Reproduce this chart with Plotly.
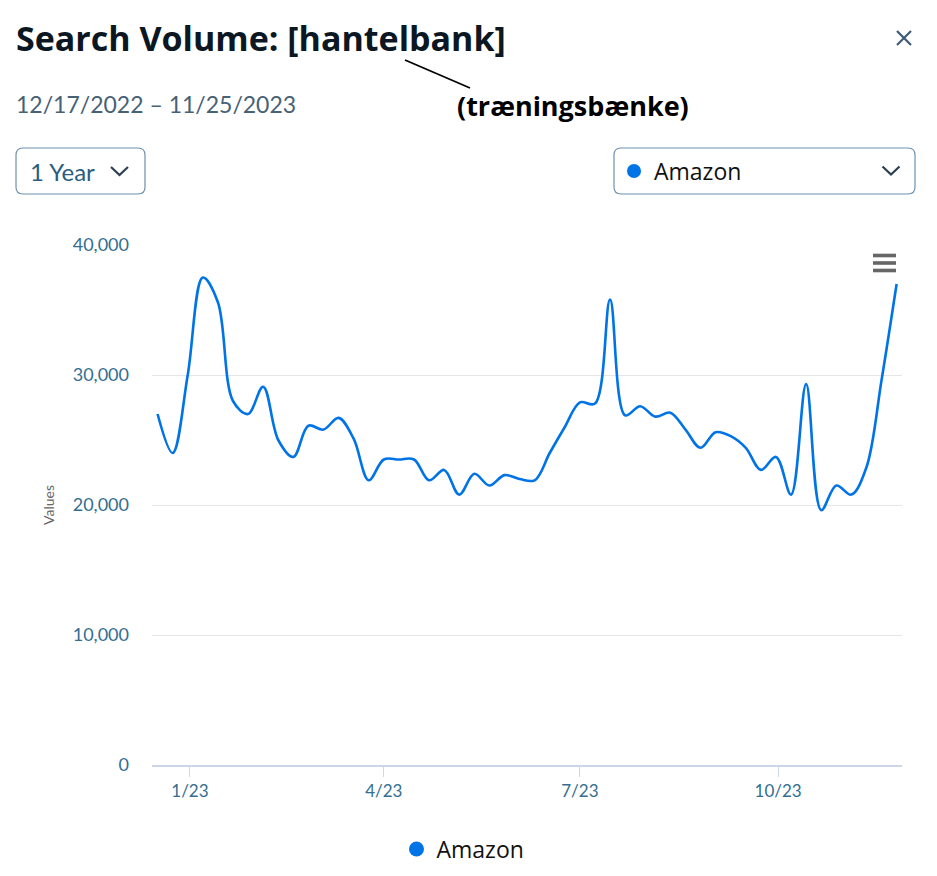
import plotly.graph_objects as go
import pandas as pd

# ---- data ----
start_date = "2022-12-17"
n_weeks = 50
dates = pd.date_range(start_date, periods=n_weeks, freq="7D")
amazon_values = [
    27000, 24000, 30000, 37500, 35600, 28000, 27000, 29100, 25000, 23700,
    26100, 25800, 26700, 25100, 21900, 23500, 23500, 23500, 21900, 22700,
    20800, 22400, 21500, 22300, 22000, 21900, 24000, 26000, 27900, 27800,
    35800, 26900, 27600, 26800, 27100, 25800, 24400, 25600, 25300, 24400,
    22700, 23700, 20800, 29300, 19600, 21500, 20800, 22900, 29600, 37000,
]
series_name = "Amazon"
x_tick_dates = ["2023-01-01", "2023-04-01", "2023-07-01", "2023-10-01"]
x_tick_labels = ["1/23", "4/23", "7/23", "10/23"]
y_tick_vals = [0, 10000, 20000, 30000, 40000]
y_tick_labels = ["0", "10,000", "20,000", "30,000", "40,000"]
title_text = "Search Volume: [hantelbank]"
subtitle_text = "12/17/2022 – 11/25/2023"
translation_text = "(træningsbænke)"
period_text = "1 Year"

# ---- layout geometry (page pixels) ----
PAGE_W, PAGE_H = 937, 876
OFF = 8  # default body margin of the html page
W, H = PAGE_W - 2 * OFF, PAGE_H - 2 * OFF
PL, PR, PT, PB = 152, 902, 245, 765

def px(x):
    return (x - PL) / (PR - PL)

def py(y):
    return (PB - y) / (PB - PT)

BLUE = "#0073e6"
TICK_COLOR = "#336e91"
BORDER = "#6d92b0"

fig = go.Figure()
fig.add_trace(go.Scatter(
    x=dates, y=amazon_values, mode="lines", name=series_name,
    line=dict(color=BLUE, width=2.6, shape="spline", smoothing=1),
    showlegend=False, hoverinfo="x+y",
))
# legend entry (dot symbol)
fig.add_trace(go.Scatter(
    x=[None], y=[None], mode="markers", name=series_name,
    marker=dict(color=BLUE, size=15, symbol="circle"),
    showlegend=True,
))

shapes = []
annotations = []

def rounded_box(x0, y0, x1, y1, r=7):
    X0, X1 = px(x0), px(x1)
    Y0, Y1 = py(y0), py(y1)
    rx = r / (PR - PL)
    ry = r / (PB - PT)
    path = (f"M {X0+rx},{Y0} L {X1-rx},{Y0} Q {X1},{Y0} {X1},{Y0-ry} "
            f"L {X1},{Y1+ry} Q {X1},{Y1} {X1-rx},{Y1} "
            f"L {X0+rx},{Y1} Q {X0},{Y1} {X0},{Y1+ry} "
            f"L {X0},{Y0-ry} Q {X0},{Y0} {X0+rx},{Y0} Z")
    return dict(type="path", xref="paper", yref="paper", path=path,
                line=dict(color=BORDER, width=1.2), fillcolor="rgba(0,0,0,0)")

def seg(x0, y0, x1, y1, color, width):
    return dict(type="line", xref="paper", yref="paper",
                x0=px(x0), y0=py(y0), x1=px(x1), y1=py(y1),
                line=dict(color=color, width=width))

def chevron(cx, cy, color="#2c3e50"):
    return dict(type="path", xref="paper", yref="paper",
                path=f"M {px(cx-8.5)},{py(cy-4)} L {px(cx)},{py(cy+4)} L {px(cx+8.5)},{py(cy-4)}",
                line=dict(color=color, width=2.2))

shapes.append(rounded_box(16, 148, 145, 194))
shapes.append(rounded_box(614, 148, 915, 194))
shapes.append(chevron(119.5, 171))
shapes.append(chevron(891, 170.5))
shapes.append(dict(type="circle", xref="paper", yref="paper",
                   x0=px(627), x1=px(641), y0=py(164), y1=py(178),
                   fillcolor=BLUE, line=dict(width=0)))
shapes.append(seg(897, 31, 911, 45, "#3d5a78", 2.2))
shapes.append(seg(911, 31, 897, 45, "#3d5a78", 2.2))
shapes.append(seg(405, 60, 470, 88, "#000000", 1.8))
for yy in (255.5, 263, 270.5):
    shapes.append(seg(873, yy, 896, yy, "#666666", 3.6))

def txt(text, x, y, size, color, family="Lato", xanchor="left", bold=False, angle=0):
    annotations.append(dict(
        text=f"<b>{text}</b>" if bold else text, xref="paper", yref="paper",
        x=px(x), y=py(y), xanchor=xanchor, yanchor="middle", showarrow=False,
        textangle=angle, font=dict(family=family, size=size, color=color)))

txt(title_text, 14, 38, 34, "#0b1722", family="Open Sans", bold=True)
txt(subtitle_text, 14, 104, 23, "#476175")
txt(translation_text, 455, 105, 27, "#000000", family="Open Sans", bold=True)
txt(period_text, 28, 171, 24, "#2b5d80")
txt(series_name, 652, 171, 23, "#111111", family="Open Sans")
txt("Values", 48, 505, 14, "#666666", xanchor="center", angle=-90)

fig.update_layout(
    width=W, height=H,
    margin=dict(l=PL - OFF, r=W + OFF - PR, t=PT - OFF, b=H + OFF - PB, autoexpand=False),
    paper_bgcolor="white", plot_bgcolor="white",
    font=dict(family="Lato", color=TICK_COLOR),
    shapes=shapes, annotations=annotations,
    legend=dict(orientation="h", x=px(463), y=py(849), xanchor="center", yanchor="middle",
                font=dict(family="Open Sans", size=23, color="#111111"),
                itemsizing="trace"),
    xaxis=dict(
        type="date", range=["2022-12-14 10:00", "2023-11-27 12:00"],
        tickvals=x_tick_dates, ticktext=x_tick_labels,
        ticks="outside", ticklen=10, tickcolor="#ccd6eb",
        showline=True, linecolor="#ccd6eb", linewidth=1.5,
        showgrid=False, zeroline=False,
        tickfont=dict(family="Lato", size=17, color=TICK_COLOR),
    ),
    yaxis=dict(
        range=[0, 40000], tickvals=y_tick_vals, ticktext=y_tick_labels,
        showgrid=True, gridcolor="#e6e6e6", gridwidth=1,
        zeroline=False, showline=False, ticks="",
        ticklabelstandoff=22,
        tickfont=dict(family="Lato", size=18, color=TICK_COLOR),
    ),
)

fig.write_html("out.html")
